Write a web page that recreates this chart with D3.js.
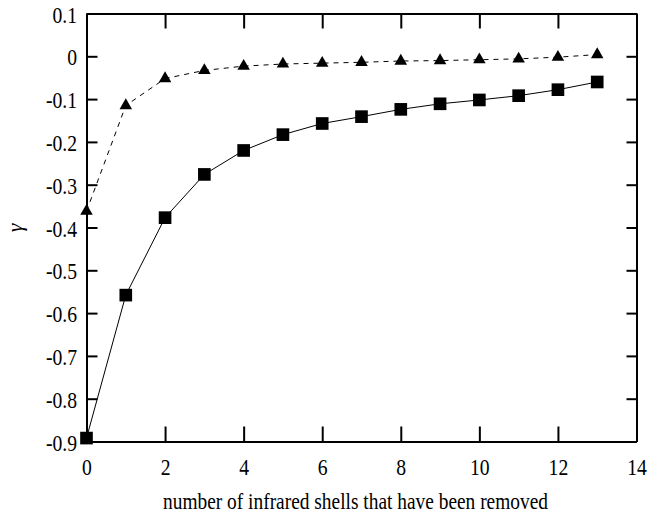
<!DOCTYPE html>
<html>
<head>
<meta charset="utf-8">
<script src="https://cdn.jsdelivr.net/npm/d3@7"></script>
<style>
  body { margin: 0; background: #fff; }
</style>
</head>
<body>
<div id="chart"></div>
<script>
// shells removed (x) and gamma for the two series
var shells = [0, 1, 2, 3, 4, 5, 6, 7, 8, 9, 10, 11, 12, 13];
var gammaSquares = [-0.892, -0.558, -0.377, -0.276, -0.220, -0.183, -0.157, -0.141, -0.124, -0.111, -0.102, -0.092, -0.078, -0.060];
var gammaTriangles = [-0.362, -0.115, -0.052, -0.033, -0.023, -0.018, -0.016, -0.014, -0.011, -0.010, -0.008, -0.006, -0.002, 0.004];

var xTicks = [0, 2, 4, 6, 8, 10, 12, 14];
var xTickLabels = ["0", "2", "4", "6", "8", "10", "12", "14"];
var yTicks = [0.1, 0, -0.1, -0.2, -0.3, -0.4, -0.5, -0.6, -0.7, -0.8, -0.9];
var yTickLabels = ["0.1", "0", "-0.1", "-0.2", "-0.3", "-0.4", "-0.5", "-0.6", "-0.7", "-0.8", "-0.9"];

var xLabel = "number of infrared shells that have been removed";
var yLabel = "\u03b3";

var svgWidth = 650;
var svgHeight = 521;
var margin = {
    top: 13.5,
    right: 13.5,
    bottom: 79.5,
    left: 86.5
};
var width = svgWidth - margin.left - margin.right;
var height = svgHeight - margin.top - margin.bottom;
var font = "'Liberation Serif', 'DejaVu Serif', serif";
var squeeze = "scale(0.82,1)";

var svg = d3.select("#chart")
    .append("svg")
    .attr("width", svgWidth)
    .attr("height", svgHeight);

var chartGroup = svg.append("g")
    .attr("transform", `translate(${margin.left},${margin.top})`);

var xScale = d3.scaleLinear().domain([0, 14]).range([0, width]);
var yScale = d3.scaleLinear().domain([-0.9, 0.1]).range([height, 0]);

function styleAxis(g) {
    g.attr("font-family", font).attr("font-size", 24);
    g.select(".domain").attr("stroke", "#000").attr("stroke-width", 2);
    g.selectAll(".tick line").attr("stroke", "#000").attr("stroke-width", 2);
    g.selectAll(".tick text").attr("fill", "#000").attr("transform", squeeze);
}

var bottomAxis = d3.axisBottom(xScale)
    .tickValues(xTicks)
    .tickFormat((d, i) => xTickLabels[i])
    .tickSizeInner(-15).tickSizeOuter(0).tickPadding(16.5);
chartGroup.append("g")
    .attr("transform", `translate(0,${height})`)
    .call(bottomAxis)
    .call(styleAxis);

var topAxis = d3.axisTop(xScale)
    .tickValues(xTicks)
    .tickFormat("")
    .tickSizeInner(-15).tickSizeOuter(0);
chartGroup.append("g")
    .call(topAxis)
    .call(styleAxis);

var leftAxis = d3.axisLeft(yScale)
    .tickValues(yTicks)
    .tickFormat((d, i) => yTickLabels[i])
    .tickSizeInner(-11).tickSizeOuter(0).tickPadding(11.5);
chartGroup.append("g")
    .call(leftAxis)
    .call(styleAxis)
    .selectAll(".tick text").attr("dy", "0.36em");

var rightAxis = d3.axisRight(yScale)
    .tickValues(yTicks)
    .tickFormat("")
    .tickSizeInner(-10).tickSizeOuter(0);
chartGroup.append("g")
    .attr("transform", `translate(${width},0)`)
    .call(rightAxis)
    .call(styleAxis);

// series lines
var line = d3.line()
    .x(d => xScale(d[0]))
    .y(d => yScale(d[1]));

var squareData = shells.map((s, i) => [s, gammaSquares[i]]);
var triangleData = shells.map((s, i) => [s, gammaTriangles[i]]);

chartGroup.append("path")
    .datum(triangleData)
    .attr("d", line)
    .attr("fill", "none")
    .attr("stroke", "#000")
    .attr("stroke-width", 1)
    .attr("stroke-dasharray", "5,5");

chartGroup.append("path")
    .datum(squareData)
    .attr("d", line)
    .attr("fill", "none")
    .attr("stroke", "#000")
    .attr("stroke-width", 1);

chartGroup.selectAll(".tri")
    .data(triangleData)
    .enter()
    .append("path")
    .classed("tri", true)
    .attr("transform", d => `translate(${xScale(d[0])},${yScale(d[1])})`)
    .attr("d", d3.symbol(d3.symbolTriangle, 68))
    .attr("fill", "#000");

chartGroup.selectAll(".sq")
    .data(squareData)
    .enter()
    .append("path")
    .classed("sq", true)
    .attr("transform", d => `translate(${xScale(d[0])},${yScale(d[1])})`)
    .attr("d", d3.symbol(d3.symbolSquare, 160))
    .attr("fill", "#000");

//labels
svg.append("text")
    .attr("x", 355.5)
    .attr("y", 509)
    .attr("text-anchor", "middle")
    .attr("font-family", font)
    .attr("font-size", 23)
    .attr("textLength", 385)
    .attr("lengthAdjust", "spacingAndGlyphs")
    .text(xLabel);

svg.append("text")
    .attr("transform", "translate(22,228) rotate(-90)")
    .attr("text-anchor", "middle")
    .attr("font-family", font)
    .attr("font-style", "italic")
    .attr("font-size", 22)
    .text(yLabel);
</script>
</body>
</html>
